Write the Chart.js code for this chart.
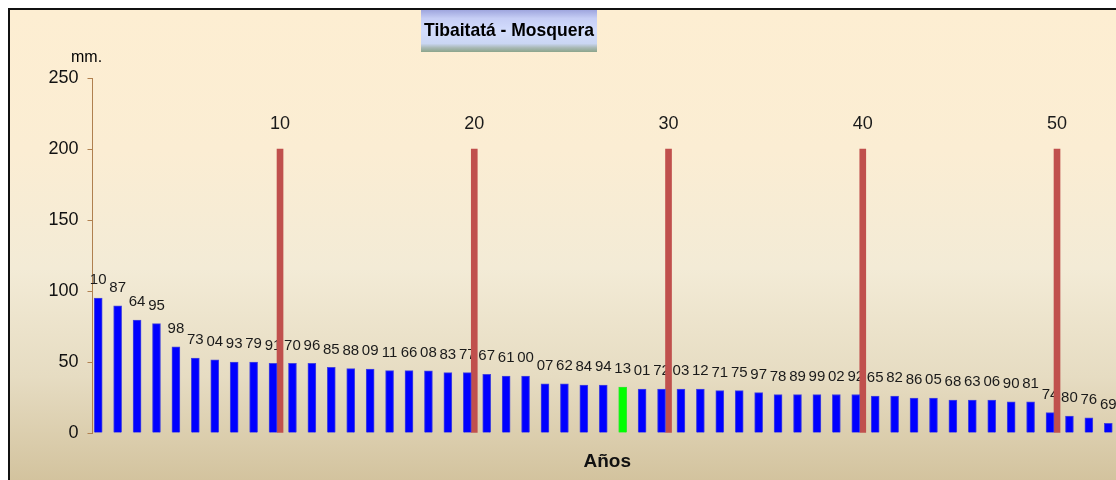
<!DOCTYPE html>
<html>
<head>
<meta charset="utf-8">
<script src="https://cdn.jsdelivr.net/npm/chart.js@4.4.0/dist/chart.umd.min.js"></script>
<style>
  html, body { margin: 0; padding: 0; background: #ffffff; overflow: hidden; width: 1116px; height: 480px; }
  #c { display: block; }
</style>
</head>
<body>
<canvas id="c" width="1140" height="480"></canvas>
<script>
// ---- data ----
const years = ['10','87','64','95','98','73','04','93','79','91','70','96','85','88','09','11','66','08','83','77',
               '67','61','00','07','62','84','94','13','01','72','03','12','71','75','97','78','89','99','02','92',
               '65','82','86','05','68','63','06','90','81','74','80','76','69'];
const rainfall = [95, 89.6, 79.6, 77, 60.6, 52.8, 51.6, 50, 50, 49,
                  49, 49, 46.2, 45.3, 45, 43.9, 43.9, 43.8, 42.5, 42.5,
                  41.3, 40.1, 40.1, 34.7, 34.7, 33.8, 33.8, 32.4, 31, 31,
                  31, 31, 29.8, 29.8, 28.4, 27, 27, 27, 27.1, 27.1,
                  26, 26, 24.6, 24.6, 23.2, 23.2, 23.2, 22, 22, 14.3,
                  12, 10.6, 6.8];
const markerRanks = [10, 20, 30, 40, 50];
const markerValue = 200;
const highlightYear = '13';
const yTicks = [0, 50, 100, 150, 200, 250];
const titleText = 'Tibaitatá - Mosquera';
const unitText = 'mm.';
const xTitle = 'Años';

const markerData = years.map((_, i) => markerRanks.includes(i + 1) ? markerValue : null);
const barColors = years.map(y => y === highlightYear ? '#00FF00' : '#0000FF');
const barBorders = years.map(y => y === highlightYear ? '#33E633' : '#4646DC');

const FONT = "'Liberation Sans', Arial, sans-serif";

const framePlugin = {
  id: 'frame',
  beforeDraw(chart) {
    const ctx = chart.ctx;
    const W = chart.width, H = chart.height;
    ctx.save();
    ctx.fillStyle = '#ffffff';
    ctx.fillRect(0, 0, W, H);
    const g = ctx.createLinearGradient(0, 10, 0, H);
    g.addColorStop(0, '#FDEED2');
    g.addColorStop(0.3, '#FBEDD3');
    g.addColorStop(0.55, '#F3EBD6');
    g.addColorStop(0.78, '#E6DCC2');
    g.addColorStop(1, '#D3C39E');
    ctx.fillStyle = g;
    ctx.fillRect(9, 9, W - 9, H - 9);
    ctx.fillStyle = '#111111';
    ctx.fillRect(8, 8, W - 8, 2);
    ctx.fillRect(8, 8, 2, H - 8);
    ctx.restore();
  },
  beforeDatasetsDraw(chart) {
    const ctx = chart.ctx;
    ctx.save();
    ctx.textAlign = 'center';
    ctx.textBaseline = 'middle';
    ctx.fillStyle = '#1a1a1a';
    const m0 = chart.getDatasetMeta(0);
    ctx.font = '15px ' + FONT;
    m0.data.forEach((el, i) => {
      ctx.fillText(chart.data.labels[i], el.x, el.y - 18);
    });
    const m1 = chart.getDatasetMeta(1);
    ctx.font = '18px ' + FONT;
    m1.data.forEach((el, i) => {
      const v = chart.data.datasets[1].data[i];
      if (v == null) return;
      ctx.fillText(String(i + 1), el.x, el.y - 25);
    });
    ctx.restore();
  },
  afterDraw(chart) {
    const ctx = chart.ctx;
    ctx.save();
    // title box
    const bx = 421, by = 10, bw = 176, bh = 42;
    const g = ctx.createLinearGradient(0, by, 0, by + bh);
    g.addColorStop(0, '#9FA6DE');
    g.addColorStop(0.2, '#C6CEF5');
    g.addColorStop(0.5, '#D3DDFD');
    g.addColorStop(0.8, '#CAD6F2');
    g.addColorStop(0.9, '#A8B8B4');
    g.addColorStop(1, '#8BA58B');
    ctx.fillStyle = g;
    ctx.fillRect(bx, by, bw, bh);
    ctx.fillStyle = '#000000';
    ctx.font = 'bold 19px ' + FONT;
    ctx.textAlign = 'center';
    ctx.textBaseline = 'middle';
    const tw = ctx.measureText(titleText).width;
    const sx = Math.min(1, 170 / tw);
    ctx.save();
    ctx.translate(bx + bw / 2, 31);
    ctx.scale(sx, 1);
    ctx.fillText(titleText, 0, 0);
    ctx.restore();
    // unit label
    ctx.font = '16px ' + FONT;
    ctx.textAlign = 'left';
    ctx.fillText(unitText, 71, 58);
    ctx.restore();
  }
};

new Chart(document.getElementById('c'), {
  type: 'bar',
  data: {
    labels: years,
    datasets: [
      {
        data: rainfall,
        backgroundColor: barColors,
        borderColor: barBorders,
        borderWidth: 1,
        barThickness: 8
      },
      {
        data: markerData,
        backgroundColor: '#C0504D',
        borderWidth: 0,
        barThickness: 6
      }
    ]
  },
  options: {
    responsive: false,
    animation: false,
    events: [],
    layout: { padding: { left: 0, right: 18, top: 78, bottom: 0 } },
    plugins: { legend: { display: false }, tooltip: { enabled: false }, title: { display: false } },
    scales: {
      x: {
        offset: true,
        grid: { display: false, drawTicks: false },
        border: { display: false },
        ticks: { display: false },
        title: { display: true, text: xTitle, color: '#111', font: { family: FONT, size: 19, weight: 'bold' }, padding: { top: 0, bottom: 7 } },
        afterFit(s) { s.height = 47; }
      },
      y: {
        min: 0, max: 250,
        afterBuildTicks(s) { s.ticks = yTicks.map(v => ({ value: v })); },
        grid: { drawOnChartArea: false, drawTicks: true, tickLength: 5, color: '#B0804F' },
        border: { display: true, color: '#B0804F', width: 1 },
        ticks: { color: '#111', padding: 9, font: { family: FONT, size: 18 } },
        afterFit(s) { s.width = 92.5; }
      }
    }
  },
  plugins: [framePlugin]
});
</script>
</body>
</html>
